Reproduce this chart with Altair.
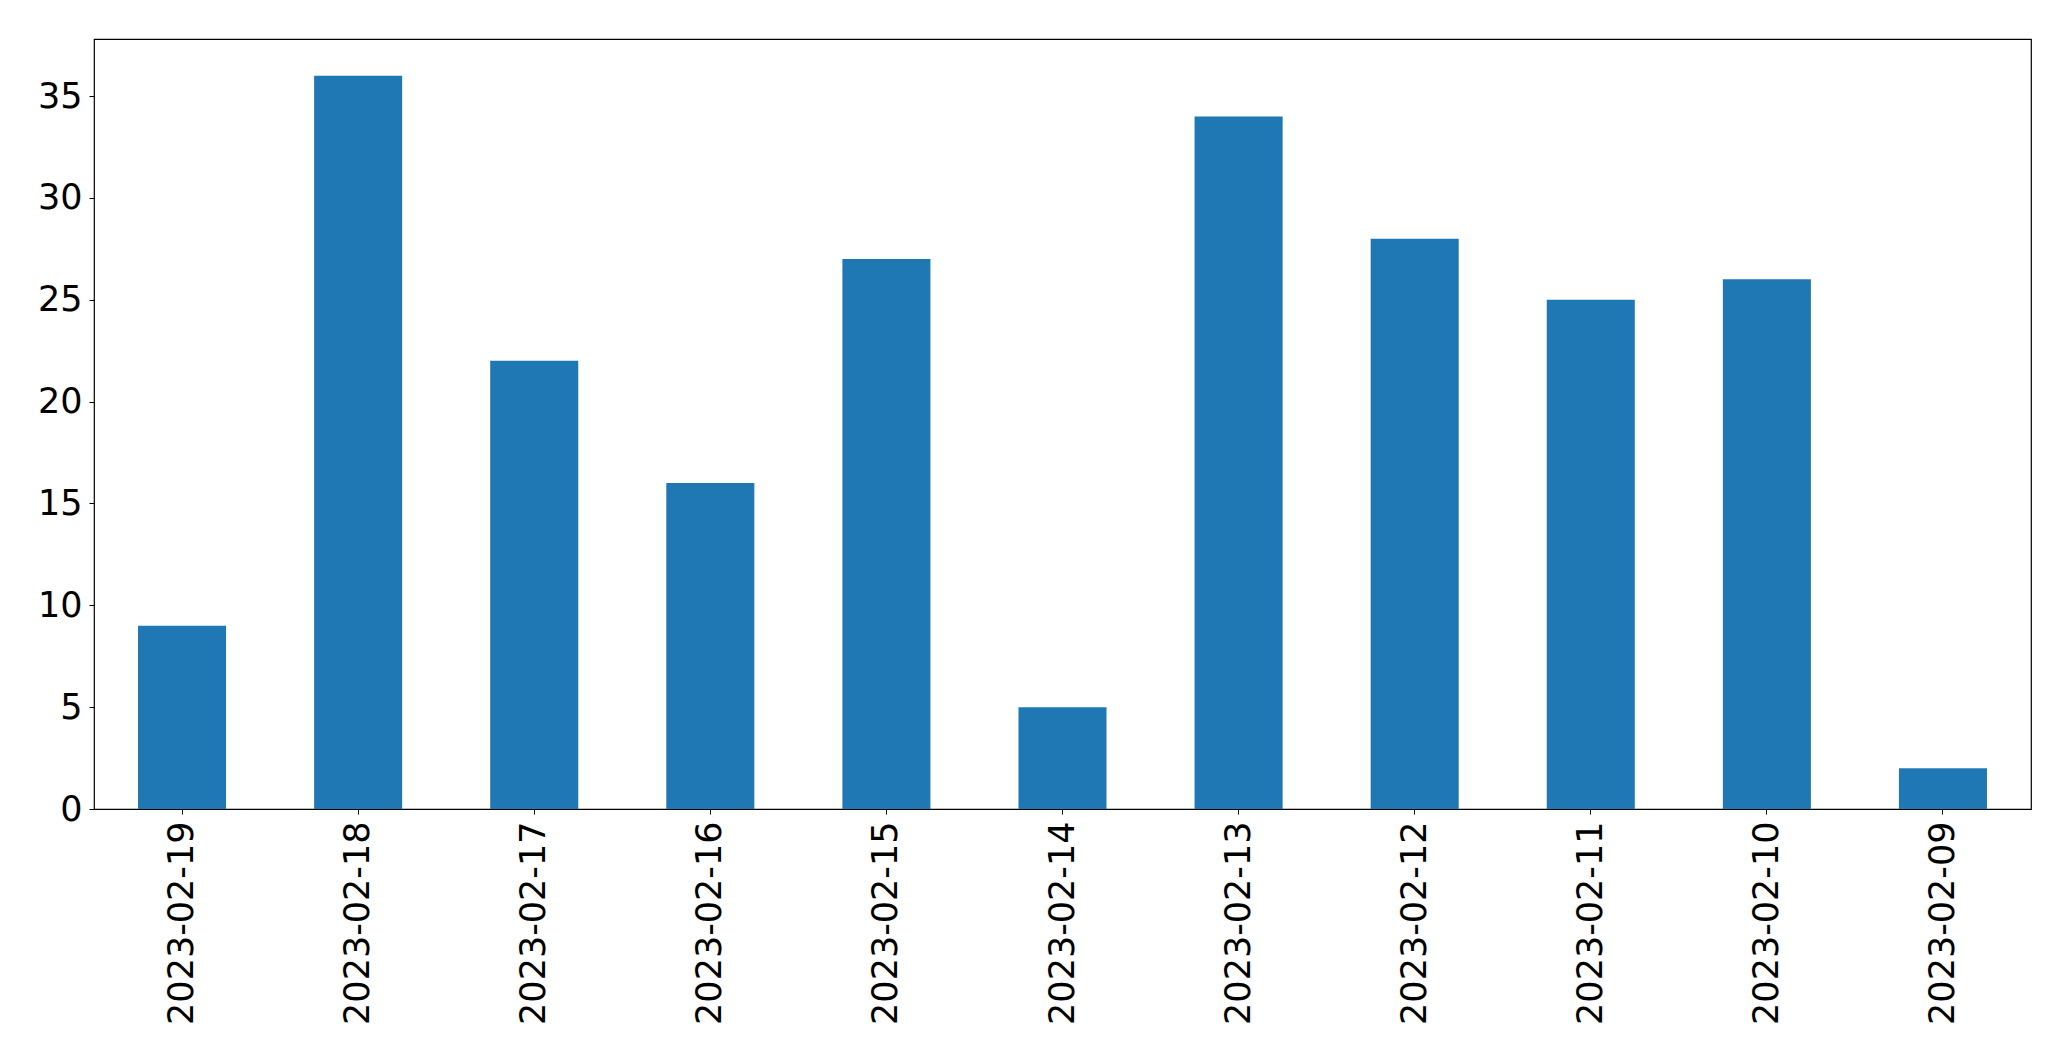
import altair as alt
import pandas as pd

dates = ["2023-02-19", "2023-02-18", "2023-02-17", "2023-02-16", "2023-02-15",
         "2023-02-14", "2023-02-13", "2023-02-12", "2023-02-11", "2023-02-10", "2023-02-09"]
counts = [9, 36, 22, 16, 27, 5, 34, 28, 25, 26, 2]
y_ticks = [0, 5, 10, 15, 20, 25, 30, 35]

df = pd.DataFrame({"date": dates, "count": counts})

FONT = "DejaVu Sans"

chart = alt.Chart(df).mark_bar(color="#1f77b4").encode(
    x=alt.X("date:N", sort=dates, title=None,
            scale=alt.Scale(paddingInner=0.5, paddingOuter=0.25),
            axis=alt.Axis(labelAngle=-90, labelAlign="right", labelBaseline="middle",
                          labelFontSize=35, labelFont=FONT, labelColor="black",
                          labelLimit=0, tickColor="black", tickSize=5, tickWidth=1,
                          labelPadding=7, domain=False, grid=False)),
    y=alt.Y("count:Q", title=None,
            scale=alt.Scale(domain=[0, 37.8], nice=False, zero=True),
            axis=alt.Axis(values=y_ticks, labelFontSize=35, labelFont=FONT,
                          labelColor="black", tickColor="black", tickSize=5,
                          tickWidth=1, labelPadding=7, domain=False, grid=False)),
).properties(
    width=1937,
    height=770,
    autosize=alt.AutoSizeParams(type="none"),
    padding={"left": 86, "top": 31, "right": 30, "bottom": 240},
    background="white",
).configure_view(
    stroke="black", strokeWidth=1.2
)

chart.save("out.html", embed_options={"renderer": "svg", "actions": False})
